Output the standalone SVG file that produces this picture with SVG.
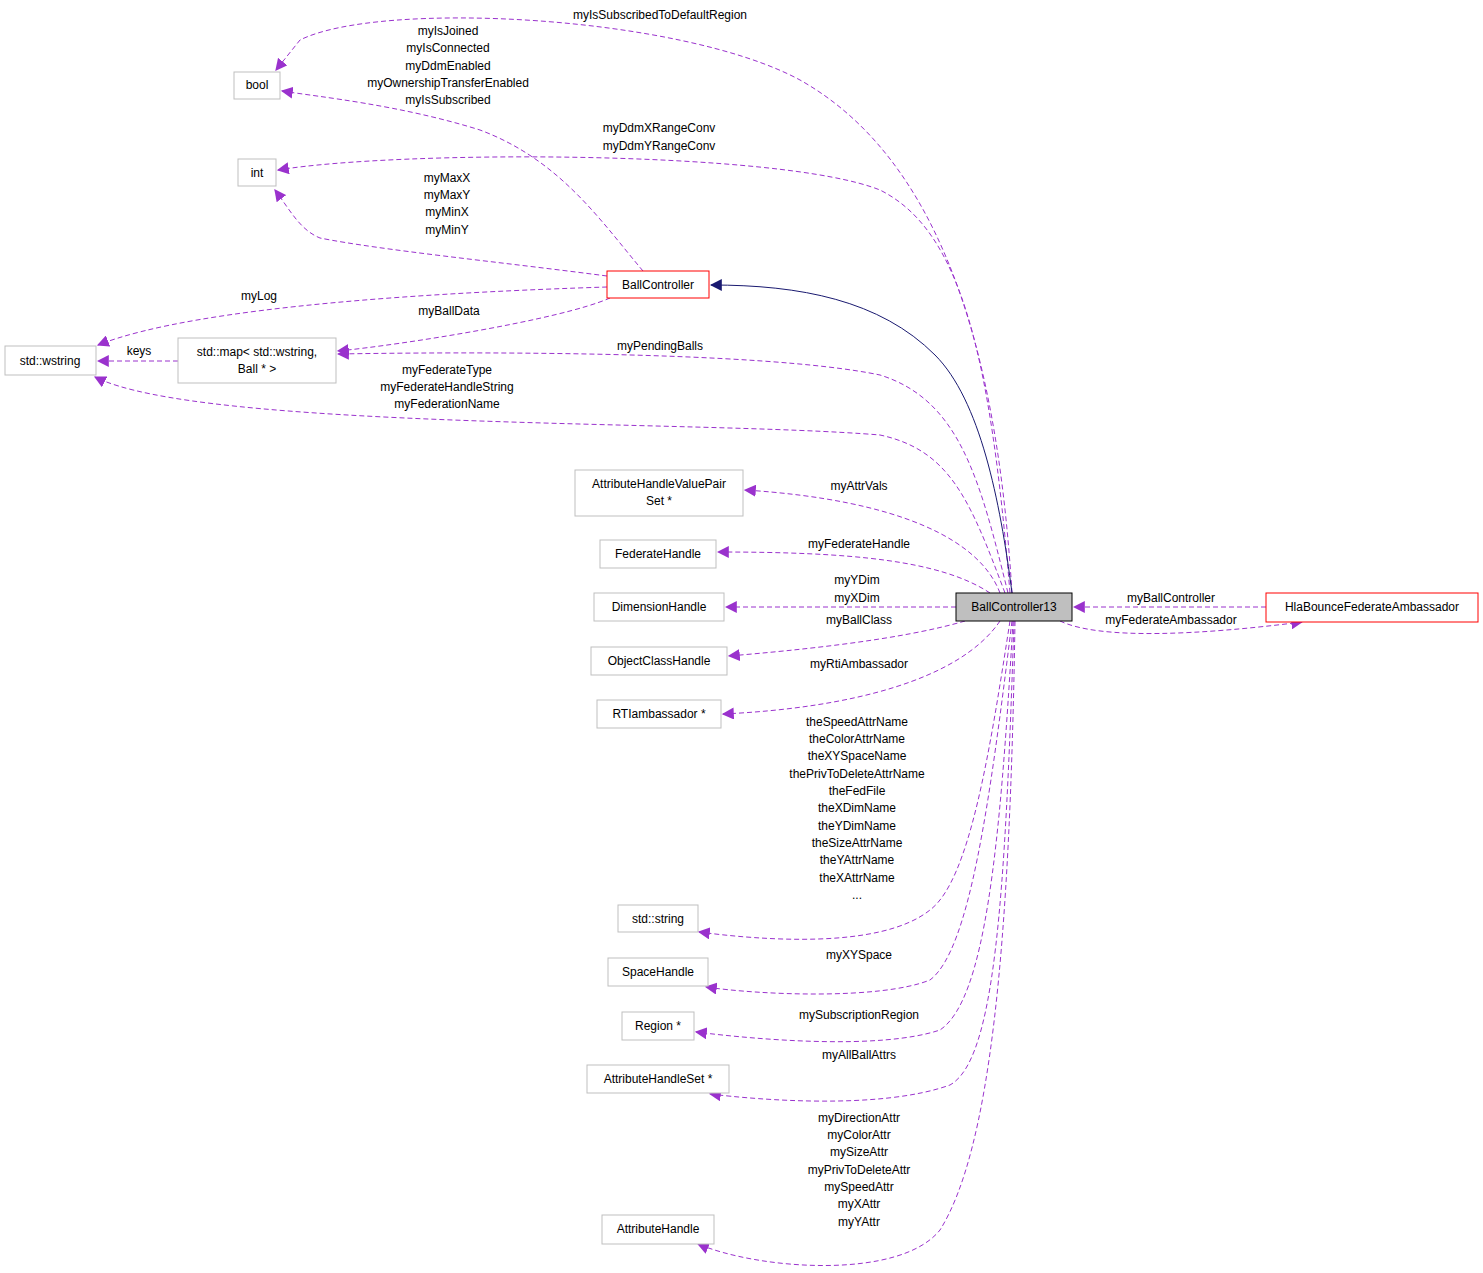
<svg xmlns="http://www.w3.org/2000/svg" width="1483" height="1273" viewBox="0 0 1483 1273">
<style>
text{font-family:"Liberation Sans",Arial,sans-serif;font-size:12px;fill:#000;text-anchor:middle}
.n{fill:#fff;stroke:#bfbfbf;stroke-width:1}
.r{fill:#fff;stroke:#ff0000;stroke-width:1}
.e{fill:none;stroke:#9a32cd;stroke-width:1;stroke-dasharray:5,3;marker-end:url(#pa)}
.i{fill:none;stroke:#191970;stroke-width:1;marker-end:url(#na)}
</style>
<defs>
<marker id="pa" viewBox="0 0 10 10" refX="9" refY="5" markerWidth="12" markerHeight="12" markerUnits="userSpaceOnUse" orient="auto"><path d="M0,0 L10,5 L0,10 z" fill="#9a32cd"/></marker>
<marker id="na" viewBox="0 0 10 10" refX="9" refY="5" markerWidth="12" markerHeight="12" markerUnits="userSpaceOnUse" orient="auto"><path d="M0,0 L10,5 L0,10 z" fill="#191970"/></marker>
</defs>
<rect width="1483" height="1273" fill="#fff"/>
<g id="edges">
<path class="e" d="M1012,593 C1000,400 960,170 800,80 C680,15 380,0 300,40 L276,70"/>
<path class="e" d="M643,271 C600,220 560,160 480,130 C400,105 320,97 282,91"/>
<path class="e" d="M1010,593 C990,350 960,230 880,190 C780,150 400,150 278,170"/>
<path class="e" d="M607,276 C500,262 380,250 320,238 C300,230 290,210 275,190"/>
<path class="e" d="M607,287 C450,292 200,305 98,345"/>
<path class="e" d="M610,298 C560,320 400,345 338,351"/>
<path class="e" d="M178,361 L98,361"/>
<path class="e" d="M1008,593 C980,480 960,400 880,375 C760,350 450,352 338,354"/>
<path class="e" d="M1005,593 C970,500 950,450 880,435 C700,420 200,430 95,377"/>
<path class="e" d="M1000,593 C980,540 900,500 745,490"/>
<path class="e" d="M990,593 C940,560 850,552 718,552"/>
<path class="e" d="M956,607 L726,607"/>
<path class="e" d="M965,621 C900,640 800,650 729,656"/>
<path class="e" d="M1000,621 C960,680 850,708 723,714"/>
<path class="e" d="M1010,621 C990,750 970,880 930,910 C880,950 760,940 699,932"/>
<path class="e" d="M1012,621 C990,800 970,950 930,980 C880,1000 760,995 706,987"/>
<path class="e" d="M1013,621 C1000,850 985,1000 940,1030 C880,1050 760,1040 696,1032"/>
<path class="e" d="M1014,621 C1005,900 995,1060 950,1085 C880,1110 760,1100 710,1094"/>
<path class="e" d="M1015,621 C1010,950 990,1150 940,1230 C900,1280 760,1270 698,1244"/>
<path class="i" d="M1012,593 C1000,500 980,400 935,355 C880,300 800,285 711,285"/>
<path class="e" d="M1266,607 L1074,607"/>
<path class="e" d="M1060,621 C1100,640 1200,635 1302,622"/>
<text x="660" y="19">myIsSubscribedToDefaultRegion</text>
<text x="448" y="35">myIsJoined</text><text x="448" y="52">myIsConnected</text><text x="448" y="70">myDdmEnabled</text><text x="448" y="87">myOwnershipTransferEnabled</text><text x="448" y="104">myIsSubscribed</text>
<text x="659" y="132">myDdmXRangeConv</text><text x="659" y="150">myDdmYRangeConv</text>
<text x="447" y="182">myMaxX</text><text x="447" y="199">myMaxY</text><text x="447" y="216">myMinX</text><text x="447" y="234">myMinY</text>
<text x="259" y="300">myLog</text>
<text x="449" y="315">myBallData</text>
<text x="139" y="355">keys</text>
<text x="660" y="350">myPendingBalls</text>
<text x="447" y="374">myFederateType</text><text x="447" y="391">myFederateHandleString</text><text x="447" y="408">myFederationName</text>
<text x="859" y="490">myAttrVals</text>
<text x="859" y="548">myFederateHandle</text>
<text x="857" y="584">myYDim</text><text x="857" y="602">myXDim</text>
<text x="859" y="624">myBallClass</text>
<text x="859" y="668">myRtiAmbassador</text>
<text x="857" y="726">theSpeedAttrName</text><text x="857" y="743">theColorAttrName</text><text x="857" y="760">theXYSpaceName</text><text x="857" y="778">thePrivToDeleteAttrName</text><text x="857" y="795">theFedFile</text><text x="857" y="812">theXDimName</text><text x="857" y="830">theYDimName</text><text x="857" y="847">theSizeAttrName</text><text x="857" y="864">theYAttrName</text><text x="857" y="882">theXAttrName</text><text x="857" y="899">...</text>
<text x="859" y="959">myXYSpace</text>
<text x="859" y="1019">mySubscriptionRegion</text>
<text x="859" y="1059">myAllBallAttrs</text>
<text x="859" y="1122">myDirectionAttr</text><text x="859" y="1139">myColorAttr</text><text x="859" y="1156">mySizeAttr</text><text x="859" y="1174">myPrivToDeleteAttr</text><text x="859" y="1191">mySpeedAttr</text><text x="859" y="1208">myXAttr</text><text x="859" y="1226">myYAttr</text>
<text x="1171" y="602">myBallController</text>
<text x="1171" y="624">myFederateAmbassador</text>
</g>
<g id="bool"><rect class="n" x="234" y="72" width="46" height="27"/><text x="257" y="89">bool</text></g>
<g id="int"><rect class="n" x="238" y="159" width="38" height="27"/><text x="257" y="177">int</text></g>
<g id="BallController"><rect class="r" x="607" y="271" width="102" height="27"/><text x="658" y="289">BallController</text></g>
<g id="wstring"><rect class="n" x="5" y="346" width="91" height="29"/><text x="50" y="365">std::wstring</text></g>
<g id="map"><rect class="n" x="178" y="338" width="158" height="45"/><text x="257" y="356">std::map&lt; std::wstring,</text><text x="257" y="373">Ball * &gt;</text></g>
<g id="AHVPS"><rect class="n" x="575" y="470" width="168" height="46"/><text x="659" y="488">AttributeHandleValuePair</text><text x="659" y="505">Set *</text></g>
<g id="FederateHandle"><rect class="n" x="600" y="540" width="116" height="28"/><text x="658" y="558">FederateHandle</text></g>
<g id="DimensionHandle"><rect class="n" x="594" y="593" width="130" height="28"/><text x="659" y="611">DimensionHandle</text></g>
<g id="ObjectClassHandle"><rect class="n" x="591" y="647" width="136" height="28"/><text x="659" y="665">ObjectClassHandle</text></g>
<g id="RTIambassador"><rect class="n" x="597" y="700" width="124" height="28"/><text x="659" y="718">RTIambassador *</text></g>
<g id="string"><rect class="n" x="618" y="905" width="80" height="27"/><text x="658" y="923">std::string</text></g>
<g id="SpaceHandle"><rect class="n" x="608" y="958" width="100" height="28"/><text x="658" y="976">SpaceHandle</text></g>
<g id="Region"><rect class="n" x="622" y="1012" width="72" height="28"/><text x="658" y="1030">Region *</text></g>
<g id="AHS"><rect class="n" x="587" y="1065" width="142" height="28"/><text x="658" y="1083">AttributeHandleSet *</text></g>
<g id="AttributeHandle"><rect class="n" x="602" y="1215" width="112" height="29"/><text x="658" y="1233">AttributeHandle</text></g>
<g id="BallController13"><rect x="956" y="593" width="116" height="28" fill="#bfbfbf" stroke="#000"/><text x="1014" y="611">BallController13</text></g>
<g id="HlaBounce"><rect class="r" x="1266" y="593" width="212" height="29"/><text x="1372" y="611">HlaBounceFederateAmbassador</text></g>
</svg>
